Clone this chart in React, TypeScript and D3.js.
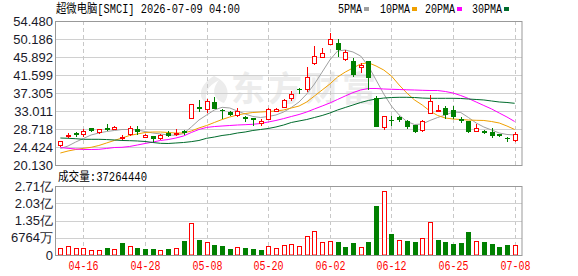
import React from 'react';
import * as d3 from 'd3';

// trading days shown (MM-DD)
const dates = ['04-13','04-14','04-15','04-16','04-17','04-20','04-21','04-22','04-23','04-24','04-27','04-28','04-29','04-30','05-01','05-04','05-05','05-06','05-07','05-08','05-11','05-12','05-13','05-14','05-15','05-18','05-19','05-20','05-21','05-22','05-26','05-27','05-28','05-29','06-01','06-02','06-03','06-04','06-05','06-08','06-09','06-10','06-11','06-12','06-15','06-16','06-17','06-18','06-22','06-23','06-24','06-25','06-26','06-29','06-30','07-01','07-02','07-06','07-07','07-08'];

const open = [24.9,27.0,27.84,27.53,28.88,28.0,29.03,28.7,26.6,27.6,28.6,26.8,27.05,26.6,27.7,27.6,28.2,31.34,34.0,33.4,35.16,33.3,32.8,32.05,31.65,31.3,30.1,31.1,33.1,33.9,36.05,38.3,38.2,44.4,45.96,48.9,49.3,45.35,45.0,43.6,44.9,36.0,29.3,30.9,31.6,30.6,29.67,28.5,32.5,33.1,33.7,33.25,31.1,30.6,28.25,28.3,28.07,27.45,26.6,26.1];
const high = [25.9,27.84,27.9,28.79,28.9,28.7,29.9,29.4,27.3,29.4,29.4,27.6,27.1,27.45,28.2,28.6,28.5,34.7,35.6,35.9,36.3,33.4,33.0,33.65,31.9,31.4,31.2,33.8,33.7,35.8,37.8,38.6,43.6,48.5,47.97,51.5,50.1,47.6,45.6,44.55,45.0,36.6,31.9,31.8,31.9,30.9,29.7,30.9,36.9,34.4,34.2,34.2,31.5,30.6,29.9,28.4,29.0,27.6,26.7,28.1];
const low = [24.4,26.5,26.9,26.88,27.9,27.6,28.3,28.5,26.1,27.1,27.4,26.5,25.55,26.1,26.9,27.1,27.3,31.0,32.85,32.5,33.4,31.0,31.8,31.65,30.4,29.4,29.4,30.85,32.8,33.7,35.4,37.1,37.6,44.0,45.7,48.9,45.8,45.0,41.2,42.1,38.0,29.3,28.5,29.4,30.4,28.6,27.7,28.1,32.5,32.9,31.2,31.2,30.2,27.8,28.2,27.6,26.65,26.7,25.55,25.7];
const close = [25.85,27.2,27.36,28.25,28.35,28.64,28.4,29.2,26.7,28.89,27.9,27.4,26.25,27.3,27.05,27.75,27.7,34.68,33.55,35.4,33.56,33.1,32.0,33.0,31.0,30.9,30.7,33.4,33.5,35.6,37.07,38.0,41.2,46.1,46.9,50.2,47.56,47.2,41.6,44.0,40.8,29.3,31.8,30.6,30.8,29.3,27.9,30.6,35.4,33.3,32.1,31.65,30.7,28.1,29.0,27.7,27.05,26.95,26.35,27.46];
const volume = [26300000,36500000,26300000,26300000,19600000,19600000,27400000,23500000,47000000,34100000,27400000,23500000,23500000,19600000,23500000,26300000,54900000,124300000,58800000,51000000,39200000,35300000,23500000,30200000,27400000,23500000,19600000,34100000,26300000,38000000,43100000,34100000,73300000,92900000,51000000,54900000,51000000,31400000,47000000,30200000,51000000,192100000,249800000,82300000,58800000,54900000,51000000,65500000,128200000,58800000,51000000,43100000,47000000,90200000,54900000,51000000,43100000,31400000,39200000,37264440];

// moving averages as drawn
const ma5 = [24.07,24.66,25.62,26.45,27.29,27.76,28.12,28.36,28.6,28.6,28.48,28.12,27.76,27.53,27.29,27.22,27.64,29.19,30.86,32.06,33.25,33.89,33.73,33.0,32.3,31.7,31.46,31.7,32.06,32.77,33.85,35.16,37.07,39.45,42.3,45.18,47.32,47.56,47.09,46.13,43.75,40.41,37.07,34.2,32.06,30.5,29.79,29.91,30.75,31.46,32.06,32.77,32.65,31.46,30.15,29.19,28.48,27.76,27.41,27.29];
const ma10 = [22.99,23.47,23.83,24.11,24.35,24.78,25.38,25.98,26.57,27.17,27.53,27.88,28.0,28.0,27.88,27.76,27.76,28.24,28.96,29.55,30.27,30.98,31.58,32.06,32.4,32.65,32.77,32.89,33.0,33.25,33.73,34.2,35.16,36.59,38.02,39.45,41.12,42.3,43.27,44.22,44.53,43.75,42.79,41.36,39.21,37.3,35.64,34.44,33.0,31.94,31.34,31.1,30.98,30.86,30.79,30.75,30.5,30.15,29.43,28.6];
const ma20 = [24.3,24.1,23.95,23.83,23.83,23.87,24.07,24.3,24.35,24.55,24.9,25.26,25.6,25.98,26.2,26.57,27.05,27.88,28.6,29.1,29.3,29.43,29.55,29.67,29.75,29.84,30.03,30.39,30.75,31.2,31.7,32.18,32.77,33.5,34.2,34.92,35.76,36.6,37.4,38.02,38.38,38.38,38.26,38.19,38.14,38.07,38.02,37.95,37.9,37.9,37.66,37.3,36.7,36.0,35.16,34.32,33.5,32.53,31.58,30.5];
const ma30 = [26.57,26.5,26.4,26.26,26.26,26.26,26.2,26.1,25.98,25.93,25.86,25.74,25.5,25.3,25.26,25.38,25.5,25.7,25.98,26.5,26.8,27.17,27.4,27.76,28.0,28.36,28.6,28.84,29.2,29.67,30.27,30.63,30.98,31.46,31.94,32.53,33.25,33.85,34.44,35.04,35.52,35.87,36.1,36.23,36.28,36.28,36.23,36.1,36.04,36.04,36.04,36.04,36.0,35.87,35.76,35.64,35.4,35.16,35.04,34.85];

const priceTicks = [54.48, 50.186, 45.892, 41.599, 37.305, 33.011, 28.718, 24.424, 20.13];
const volTicks = [270560000, 202920000, 135280000, 67640000, 0];
const volTickLabels = ['2.71亿', '2.03亿', '1.35亿', '6764万', '0'];
const xTickLabels = ['04-16', '04-28', '05-08', '05-20', '06-02', '06-12', '06-25', '07-08'];
const maNames = ['5PMA', '10PMA', '20PMA', '30PMA'];

const RED = '#ff0000';
const GREEN = '#008000';
const maColors = ['#a0a0a0', '#f0a000', '#ff00ff', '#006b2c'];
const mono = "'Liberation Mono', 'Noto Sans CJK SC', monospace";
const sans = "'Liberation Sans', Arial, sans-serif";

const App = () => {
  // plot boxes
  const left = 55.5, right = 522;
  const pTop = 21, pBot = 165;
  const vTop = 186, vBot = 255;

  const x = d3.scaleBand().domain(dates).range([56.5, 518.5]);
  const cx = (i: number) => x(dates[i])! + x.bandwidth() / 2;
  const y = d3.scaleLinear().domain([20.13, 54.48]).range([pBot, pTop]);
  const yv = d3.scaleLinear().domain([0, 270560000]).range([vBot, vTop]);

  const line = d3.line<number>().x((_, i) => cx(i)).y(v => y(v));
  const mas = [ma5, ma10, ma20, ma30];

  const gridX = xTickLabels.map(l => Math.round(cx(dates.indexOf(l))) + 0.5);
  const volTitle = `成交量:${volume[volume.length - 1]}`;

  return (
    <svg width={578} height={276} style={{ position: 'absolute', left: 0, top: 0, background: '#fff' }}>
      {/* title + legend */}
      <text x={56} y={13} fontFamily={mono} fontSize={12} textLength={184} lengthAdjust="spacingAndGlyphs" fill="#000">
        超微电脑[SMCI] 2026-07-09 04:00
      </text>
      {[338, 380, 425, 472].map((lx, k) => (
        <g key={k}>
          <text x={lx} y={12.5} fontFamily={mono} fontSize={12} textLength={maNames[k].length * 6}
            lengthAdjust="spacingAndGlyphs" fill="#000">{maNames[k]}</text>
          <rect x={lx + maNames[k].length * 6 + 2} y={7} width={5} height={4} fill={maColors[k]} />
        </g>
      ))}

      {/* watermark */}
      <g fill="#ececec">
        <path d="M214 76 C200 84 196 98 208 104 C203 95 207 86 219 80 C211 90 213 99 224 103 C231 94 228 82 214 76 Z" />
        <text x={231} y={101} fontFamily="'Noto Sans CJK SC', sans-serif" fontWeight="bold" fontSize={34} letterSpacing={3}>东方财富</text>
      </g>

      {/* price grid */}
      {priceTicks.map((t, k) => (
        <g key={k}>
          <line x1={left} x2={right} y1={Math.round(y(t)) + 0.5} y2={Math.round(y(t)) + 0.5} stroke="#d0d0d0" />
          <text x={53} y={y(t)} dy="0.35em" textAnchor="end" fontFamily={sans} fontSize={13} fill="#1a1a2a">
            {t.toFixed(3)}
          </text>
        </g>
      ))}
      {gridX.map((gx, k) => (
        <g key={k}>
          <line x1={gx} x2={gx} y1={pTop} y2={pBot} stroke="#c8c8c8" strokeDasharray="4,3" />
          <line x1={gx} x2={gx} y1={vTop} y2={vBot} stroke="#c8c8c8" strokeDasharray="4,3" />
          <text x={gx} y={270} textAnchor="middle" fontFamily={mono} fontSize={12} textLength={30}
            lengthAdjust="spacingAndGlyphs" fill={RED}>{xTickLabels[k]}</text>
        </g>
      ))}
      <rect x={left} y={pTop + 0.5} width={right - left} height={pBot - pTop} fill="none" stroke="#999" />

      {/* moving averages */}
      {mas.map((m, k) => (
        <path key={k} d={line(m)!} fill="none" stroke={maColors[k]} strokeWidth={1} />
      ))}

      {/* candles */}
      {dates.map((d, i) => {
        const c = Math.round(cx(i));
        const o = open[i], cl = close[i];
        const up = cl >= o;
        const top = Math.round(y(Math.max(o, cl)));
        const bot = Math.round(y(Math.min(o, cl)));
        const hy = Math.round(y(high[i]));
        const ly = Math.round(y(low[i]));
        if (up) {
          return (
            <g key={d} stroke={RED}>
              <line x1={c + 0.5} x2={c + 0.5} y1={hy} y2={top} />
              <line x1={c + 0.5} x2={c + 0.5} y1={bot} y2={ly} />
              <rect x={c - 1.5} y={top + 0.5} width={4} height={Math.max(bot - top, 0.01)} fill="#fff" />
            </g>
          );
        }
        return (
          <g key={d}>
            <line x1={c + 0.5} x2={c + 0.5} y1={hy} y2={ly} stroke={GREEN} />
            <rect x={c - 2} y={top} width={5} height={Math.max(bot - top, 1)} fill={GREEN} />
          </g>
        );
      })}

      {/* volume panel */}
      <text x={58} y={181} fontFamily={mono} fontSize={12} textLength={89} lengthAdjust="spacingAndGlyphs" fill="#000">
        {volTitle}
      </text>
      {volTicks.map((t, k) => (
        <g key={k}>
          {k > 0 && k < volTicks.length - 1 && (
            <line x1={left} x2={right} y1={Math.round(yv(t)) + 0.5} y2={Math.round(yv(t)) + 0.5} stroke="#d0d0d0" />
          )}
          <text x={53} y={yv(t)} dy="0.35em" textAnchor="end" fontFamily={sans} fontSize={13} fill="#1a1a2a">
            {volTickLabels[k]}
          </text>
        </g>
      ))}
      {dates.map((d, i) => {
        const c = Math.round(cx(i));
        const prev = i === 0 ? open[0] : close[i - 1];
        const up = close[i] >= prev;
        const top = Math.round(yv(volume[i]));
        return up ? (
          <rect key={d} x={c - 1.5} y={top + 0.5} width={4} height={vBot - top - 0.5} fill="#fff" stroke={RED} />
        ) : (
          <rect key={d} x={c - 2} y={top} width={5} height={vBot - top} fill={GREEN} />
        );
      })}
      <rect x={left} y={vTop + 0.5} width={right - left} height={vBot - vTop} fill="none" stroke="#999" />
    </svg>
  );
};

export default App;
